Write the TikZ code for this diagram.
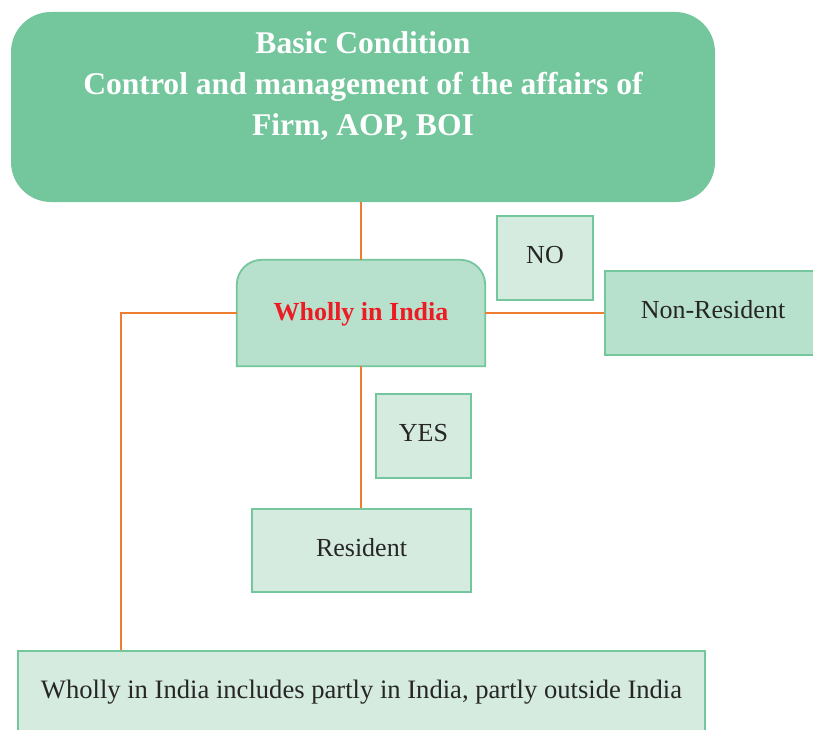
\documentclass[tikz,border=0pt]{standalone}
\usepackage{fontspec}
\setmainfont{Liberation Serif}
\definecolor{headgreen}{HTML}{74C69D}
\definecolor{midgreen}{HTML}{B7E1CC}
\definecolor{palegreen}{HTML}{D5EBDF}
\definecolor{linkorange}{HTML}{ED7D31}
\definecolor{keyred}{HTML}{ED1C24}
\begin{document}
\begin{tikzpicture}[x=1pt,y=-1pt,
  box/.style={draw=headgreen, line width=1.8pt, inner sep=0pt, align=center,
    text height=18pt, text depth=6.8pt,
    font=\fontsize{26}{31}\selectfont, text=black!85},
  palebox/.style={box, fill=palegreen},
  midbox/.style={box, fill=midgreen},
  link/.style={draw=linkorange, line width=1.8pt}]
\useasboundingbox (0,0) rectangle (813,730);

% heading panel
\node[fill=headgreen, rounded corners=40pt, minimum width=704pt, minimum height=190pt,
  inner sep=0pt] (head) at (363,107) {};
\node[text=white, align=center, font=\bfseries\fontsize{31.6}{41}\selectfont]
  (headtext) at (363,86) {Basic Condition\\Control and management of the affairs of\\Firm, AOP, BOI};

% decision box, rounded on top only
\node[minimum width=248pt, minimum height=106pt, inner sep=0pt] (wholly) at (361,313) {};
\filldraw[draw=headgreen, fill=midgreen, line width=1.8pt]
  (wholly.south west) [rounded corners=25pt] -- (wholly.north west) -- (wholly.north east)
  [sharp corners] -- (wholly.south east) -- cycle;
\node[text=keyred, font=\bfseries\fontsize{26}{31}\selectfont] (whollytext) at (361,314) {Wholly in India};

% answers and outcomes
\node[palebox, minimum width=96pt, minimum height=84pt] (no) at (545,258) {NO};
\node[midbox, minimum width=216pt, minimum height=84pt] (nonres) at (713,313) {Non-Resident};
\node[palebox, minimum width=95pt, minimum height=84pt] (yes) at (423.5,436) {YES};
\node[palebox, minimum width=219pt, minimum height=83pt] (resident) at (361.5,550.5) {Resident};
\node[palebox, minimum width=687pt, minimum height=84pt, font=\fontsize{26.6}{31}\selectfont]
  (note) at (361.5,693) {Wholly in India includes partly in India, partly outside India};

% connectors
\coordinate (bend) at (121,313);
\draw[link] (wholly.north |- head.south) -- (wholly.north);
\draw[link] (wholly.south) -- (wholly.south |- resident.north);
\draw[link] (wholly.east) -- (nonres.west);
\draw[link] (wholly.west) -- (bend) -- (bend |- note.north);
\end{tikzpicture}
\end{document}
